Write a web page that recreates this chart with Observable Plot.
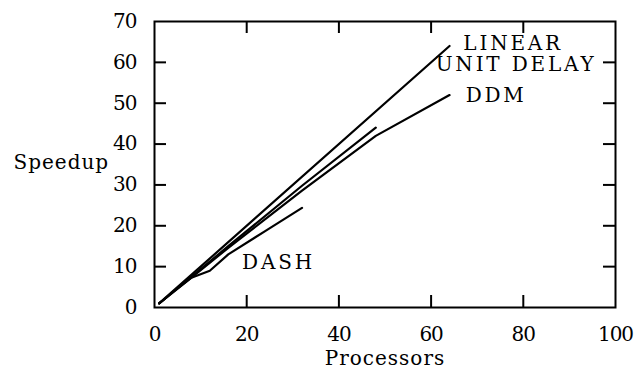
<!DOCTYPE html>
<html>
<head>
<meta charset="utf-8">
<script src="https://cdn.jsdelivr.net/npm/d3@7"></script>
<script src="https://cdn.jsdelivr.net/npm/@observablehq/plot@0.6"></script>
<style>
  html, body { margin: 0; padding: 0; background: #fff; }
  svg { display: block; }
</style>
</head>
<body>
<div id="chart"></div>
<script>
// ---- data ----
const linearX = [1, 64];
const linearY = [1, 64];
const unitDelayX = [1, 2, 4, 8, 16, 32, 48];
const unitDelayY = [1, 1.9, 3.8, 7.5, 15, 29.8, 44];
const ddmX = [1, 2, 4, 8, 16, 32, 48, 64];
const ddmY = [1, 1.9, 3.7, 7.3, 14.6, 28.6, 42, 52];
const dashX = [1, 2, 4, 8, 12, 16, 24, 32];
const dashY = [1, 1.9, 3.8, 7.3, 9, 13, 18.7, 24.4];

const seriesNames = ["LINEAR", "UNIT DELAY", "DDM", "DASH"];
const labelX = [67, 61, 67.5, 19];
const labelY = [63.1, 57.8, 50.2, 9.5];

const xTicks = [0, 20, 40, 60, 80, 100];
const yTicks = [0, 10, 20, 30, 40, 50, 60, 70];
const xInnerTicks = [20, 40, 60, 80];
const yInnerTicks = [10, 20, 30, 40, 50, 60];
const xLabel = "Processors";
const yLabel = "Speedup";
const yLabelPos = 34;

// ---- build table ----
const rows = [];
function add(name, xs, ys) { xs.forEach((x, i) => rows.push({series: name, x, y: ys[i]})); }
add("LINEAR", linearX, linearY);
add("UNIT DELAY", unitDelayX, unitDelayY);
add("DDM", ddmX, ddmY);
add("DASH", dashX, dashY);
const labels = seriesNames.map((s, i) => ({text: s, x: labelX[i], y: labelY[i]}));

const W = 634, H = 378, mL = 154, mR = 19, mT = 21, mB = 71;
const fw = W - mL - mR, fh = H - mT - mB, tk = 12;
const FF = "DejaVu Serif";
const FS = 20;

const chart = Plot.plot({
  width: W, height: H,
  marginLeft: mL, marginRight: mR, marginTop: mT, marginBottom: mB,
  x: {domain: [0, 100], axis: null},
  y: {domain: [0, 70], axis: null},
  style: {fontFamily: FF, fontSize: FS + "px", color: "#000", background: "#fff"},
  marks: [
    Plot.lineY(rows, {x: "x", y: "y", z: "series", stroke: "#000", strokeWidth: 2.2}),
    Plot.frame({stroke: "#000", strokeWidth: 2}),
    Plot.tickX(xInnerTicks, {x: d => d, stroke: "#000", strokeWidth: 2, insetTop: fh - tk}),
    Plot.tickX(xInnerTicks, {x: d => d, stroke: "#000", strokeWidth: 2, insetBottom: fh - tk}),
    Plot.tickY(yInnerTicks, {y: d => d, stroke: "#000", strokeWidth: 2, insetRight: fw - tk}),
    Plot.tickY(yInnerTicks, {y: d => d, stroke: "#000", strokeWidth: 2, insetLeft: fw - tk}),
    Plot.text(xTicks, {x: d => d, text: d => String(d), frameAnchor: "bottom", dy: 27.5, lineAnchor: "middle", fill: "#000", fontSize: FS, fontFamily: FF}),
    Plot.text(yTicks, {y: d => d, text: d => String(d), frameAnchor: "left", dx: -18, textAnchor: "end", lineAnchor: "middle", fill: "#000", fontSize: FS, fontFamily: FF}),
    Plot.text([xLabel], {text: d => d, frameAnchor: "bottom", dy: 57.5, lineAnchor: "bottom", fill: "#000", fontSize: FS, fontFamily: FF}),
    Plot.text([yLabel], {text: d => d, y: () => yLabelPos, frameAnchor: "left", dx: 13 - mL, textAnchor: "start", lineAnchor: "bottom", fill: "#000", fontSize: FS, fontFamily: FF}),
    Plot.text(labels, {x: "x", y: "y", text: "text", textAnchor: "start", lineAnchor: "bottom", fill: "#000", fontSize: FS, fontFamily: FF})
  ]
});
chart.querySelectorAll("text").forEach(t => {
  const s = t.textContent;
  if (/^[0-9]+$/.test(s)) t.style.letterSpacing = "-1px";
  else if (/^[A-Z ]+$/.test(s)) t.style.letterSpacing = "2.8px";
  else t.style.letterSpacing = "1px";
});
document.getElementById("chart").appendChild(chart);
</script>
</body>
</html>
